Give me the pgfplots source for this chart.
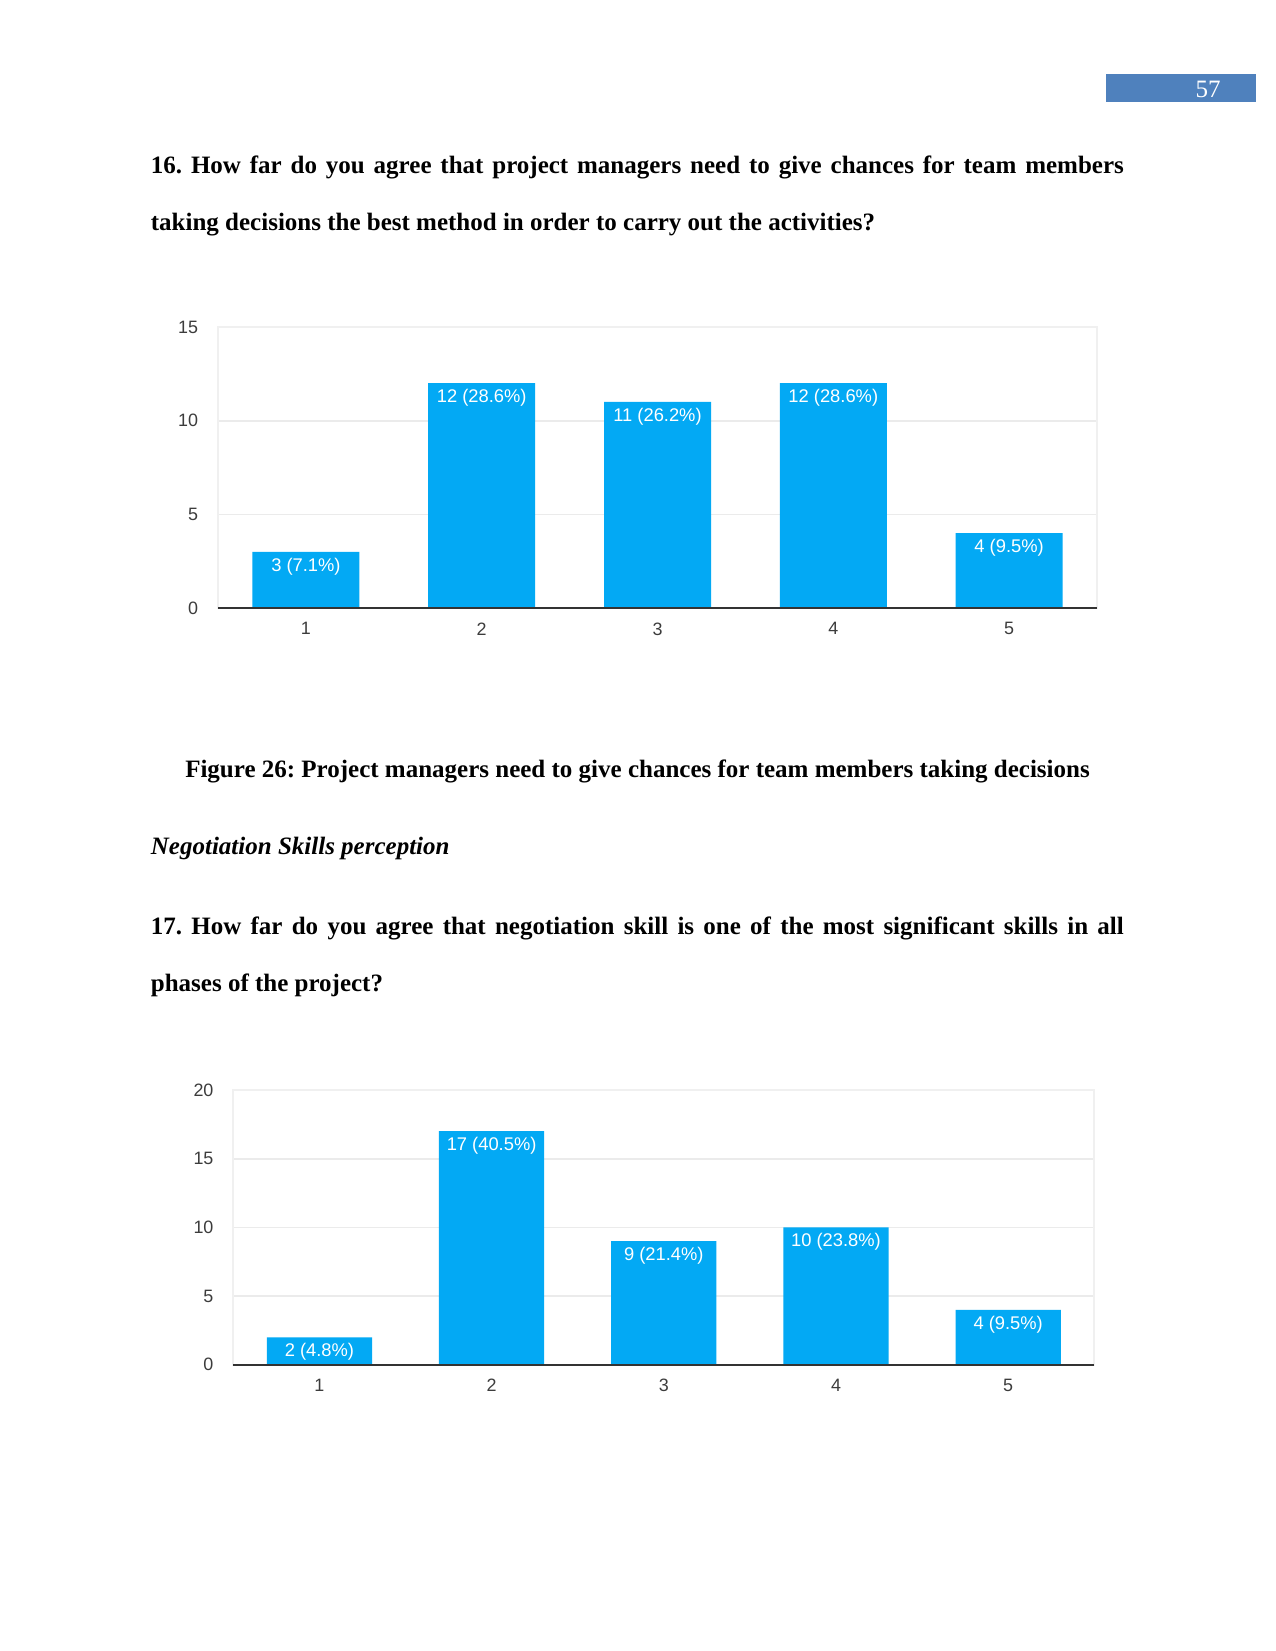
\documentclass[border=0pt]{standalone}
\usepackage{fontspec}
\setmainfont{Liberation Serif}
\newfontfamily\chartfont{Liberation Sans}
\usepackage{pgfplots}
\pgfplotsset{compat=1.18}
\definecolor{barblue}{RGB}{3,169,244}
\definecolor{pageblue}{RGB}{79,129,189}
\definecolor{gridgray}{RGB}{235,235,235}
\definecolor{framegray}{RGB}{240,240,240}
\definecolor{axisdark}{RGB}{51,51,51}
\definecolor{ticktext}{RGB}{60,60,60}
\pgfplotsset{
  formsbar/.style={
    scale only axis,
    ybar,
    xmin=0.5, xmax=5.5, ymin=0,
    xtick={1,2,3,4,5},
    major tick length=0pt,
    ymajorgrids,
    grid style={draw=gridgray, line width=0.8pt},
    axis line style={draw=framegray, line width=0.8pt},
    /pgf/number format/assume math mode=true,
    tick label style={font=\chartfont\fontsize{8.6}{10}\selectfont, text=ticktext},
    yticklabel style={xshift=-6pt},
    xticklabel style={yshift=-3.5pt},
    point meta=explicit symbolic,
    nodes near coords={\pgfplotspointmeta},
    nodes near coords style={font=\chartfont\fontsize{8.8}{10}\selectfont, text=white, anchor=center, yshift=-7pt},
    clip=false,
  }
}
\frenchspacing
\begin{document}
\frenchspacing
\begin{tikzpicture}[x=0.48pt,y=-0.48pt]
\path[use as bounding box, fill=white] (0,0) rectangle (1275,1651);
% page number
\fill[pageblue] (1106,74) rectangle (1256,102);
\node[anchor=base, inner sep=0, text=white] at (1208,98) {\fontsize{12}{14}\selectfont 57};
% question 16
\node[anchor=base west, inner sep=0] at (150.5,174) {\fontsize{12}{14}\selectfont\bfseries\frenchspacing\makebox[467pt][s]{16. How far do you agree that project managers need to give chances for team members}};
\node[anchor=base west, inner sep=0] at (150.5,231) {\fontsize{12}{14}\selectfont\bfseries taking decisions the best method in order to carry out the activities?};
% chart 1
\begin{axis}[formsbar,
  at={(104.64pt,-291.84pt)}, anchor=south west,
  width=421.92pt, height=134.88pt,
  ymax=15, ytick={0,5,10,15},
  bar width=51.36pt]
\addplot[fill=barblue, draw=none] coordinates {
 (1,3) [3 (7.1\%)]
 (2,12) [12 (28.6\%)]
 (3,11) [11 (26.2\%)]
 (4,12) [12 (28.6\%)]
 (5,4) [4 (9.5\%)]
};
\draw[axisdark, line width=1.1pt] (rel axis cs:0,0) -- (rel axis cs:1,0);
\end{axis}
% caption
\node[anchor=base, inner sep=0] at (637.5,777) {\fontsize{12}{14}\selectfont\bfseries\frenchspacing Figure 26: Project managers need to give chances for team members taking decisions};
\node[anchor=base west, inner sep=0] at (150.5,854) {\fontsize{12}{14}\selectfont\bfseries\itshape Negotiation Skills perception};
% question 17
\node[anchor=base west, inner sep=0] at (150.5,934) {\fontsize{12}{14}\selectfont\bfseries\frenchspacing\makebox[467pt][s]{17. How far do you agree that negotiation skill is one of the most significant skills in all}};
\node[anchor=base west, inner sep=0] at (150.5,991) {\fontsize{12}{14}\selectfont\bfseries phases of the project?};
% chart 2
\begin{axis}[formsbar,
  at={(111.98pt,-655.06pt)}, anchor=south west,
  width=413.28pt, height=131.86pt,
  ymax=20, ytick={0,5,10,15,20},
  bar width=50.5pt]
\addplot[fill=barblue, draw=none] coordinates {
 (1,2) [2 (4.8\%)]
 (2,17) [17 (40.5\%)]
 (3,9) [9 (21.4\%)]
 (4,10) [10 (23.8\%)]
 (5,4) [4 (9.5\%)]
};
\draw[axisdark, line width=1.1pt] (rel axis cs:0,0) -- (rel axis cs:1,0);
\end{axis}
\end{tikzpicture}
\end{document}
